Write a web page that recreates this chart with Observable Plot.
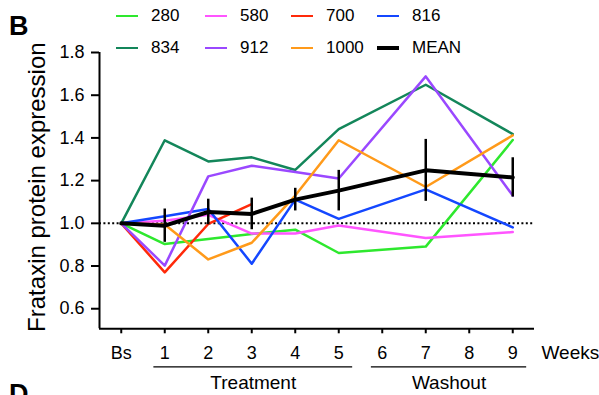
<!DOCTYPE html>
<html><head><meta charset="utf-8">
<script src="https://cdn.jsdelivr.net/npm/d3@7"></script>
<script src="https://cdn.jsdelivr.net/npm/@observablehq/plot@0.6"></script>
<style>
body{margin:0;background:#fff;}
#wrap{position:relative;width:599px;height:395px;overflow:hidden;font-family:"Liberation Sans",Arial,sans-serif;background:#fff;}
.panel{position:absolute;font-weight:bold;font-size:27px;line-height:1;color:#000;}
.leg{position:absolute;display:flex;align-items:center;height:20px;font-size:17px;color:#000;white-space:nowrap;}
.leg .sw{display:inline-block;width:22px;}
.leg .tx{margin-left:13px;}
</style></head><body><div id="wrap"></div>
<script>
// ---- data ----
const weeks = [0, 1, 2, 3, 4, 5, 7, 9];
const xTickValues = [0, 1, 2, 3, 4, 5, 6, 7, 8, 9];
const xTickLabels = ["Bs", "1", "2", "3", "4", "5", "6", "7", "8", "9"];
const yTicks = [0.6, 0.8, 1.0, 1.2, 1.4, 1.6, 1.8];
const seriesNames = ["280", "580", "700", "816", "834", "912", "1000"];
const seriesColors = ["#2ee82e", "#ff55ff", "#ff2a0a", "#1447ff", "#13865a", "#9a48ff", "#ff9a1a"];
const s280  = [1.0, 0.903, 0.927, 0.950, 0.970, 0.861, 0.891, 1.390];
const s580  = [1.0, 1.012, 1.040, 0.952, 0.952, 0.990, 0.931, 0.959];
const s700  = [1.0, 0.770, 0.997, 1.090, null, null, null, null];
const s816  = [1.0, 1.033, 1.067, 0.811, 1.111, 1.021, 1.159, 0.981];
const s834  = [1.0, 1.389, 1.290, 1.309, 1.250, 1.441, 1.649, 1.418];
const s912  = [1.0, 0.802, 1.220, 1.270, 1.240, 1.210, 1.688, 1.130];
const s1000 = [1.0, 0.994, 0.831, 0.909, 1.130, 1.389, 1.170, 1.412];
const meanValues = [1.0, 0.989, 1.053, 1.044, 1.111, 1.153, 1.248, 1.215];
const semValues  = [null, 0.078, 0.060, 0.074, 0.053, 0.095, 0.145, 0.092];
const phases = [{name: "Treatment", start: 1, end: 5}, {name: "Washout", start: 6, end: 9}];
const legendOrder = ["280", "580", "700", "816", "834", "912", "1000", "MEAN"];

const seriesValues = [s280, s580, s700, s816, s834, s912, s1000];
const yMin = 0.506, yMax = 1.8;

const rows = [];
seriesNames.forEach((name, i) => {
  seriesValues[i].forEach((v, j) => { if (v != null) rows.push({series: name, week: weeks[j], value: v}); });
});
const meanRows = weeks.map((w, j) => ({week: w, value: meanValues[j], sem: semValues[j]}));

const chart = Plot.plot({
  width: 599, height: 395,
  marginTop: 52, marginBottom: 66.7, marginLeft: 99, marginRight: 65,
  style: {background: "white", fontFamily: "'Liberation Sans', Arial, sans-serif", overflow: "visible", color: "black"},
  x: {domain: [-0.5, 9.5]},
  y: {domain: [yMin, yMax]},
  color: {domain: seriesNames, range: seriesColors},
  marks: [
    Plot.ruleY([1], {stroke: "black", strokeWidth: 2, strokeDasharray: "2,2.4"}),
    Plot.line(rows, {x: "week", y: "value", z: "series", stroke: "series", strokeWidth: 2.5}),
    Plot.line(meanRows, {x: "week", y: "value", stroke: "black", strokeWidth: 4}),
    Plot.ruleX(meanRows.filter(d => d.sem != null), {x: "week", y1: d => d.value - d.sem, y2: d => d.value + d.sem, stroke: "black", strokeWidth: 2.5}),
    Plot.ruleX([-0.5], {stroke: "black", strokeWidth: 2}),
    Plot.ruleY([yMin], {stroke: "black", strokeWidth: 2}),
    Plot.axisY({ticks: yTicks, tickFormat: d => d.toFixed(1), tickSize: 8, tickPadding: 7, fontSize: 18, strokeWidth: 2, label: null}),
    Plot.axisX({ticks: xTickValues, tickFormat: (d) => xTickLabels[xTickValues.indexOf(d)], tickSize: 5, tickPadding: 12, fontSize: 18, strokeWidth: 2, label: null}),
    Plot.text(["Frataxin protein expression"], {frameAnchor: "left", textAnchor: "middle", text: d => d, rotate: -90, dx: -62, dy: -3.5, fontSize: 24}),
    Plot.text(["Weeks"], {x: () => 9.5, y: () => yMin, text: d => d, textAnchor: "start", dx: 7, dy: 24, fontSize: 19}),
    Plot.ruleY(phases, {x1: d => d.start - 0.25, x2: d => d.end + 0.32, y: () => yMin, dy: 38, stroke: "black", strokeWidth: 1.2}),
    Plot.text(phases, {x: d => (d.start - 0.25 + d.end + 0.32) / 2, y: () => yMin, text: "name", dy: 54.5, fontSize: 19})
  ]
});

const wrap = document.getElementById("wrap");
wrap.appendChild(chart);

// panel letters
const b = document.createElement("div"); b.className = "panel"; b.textContent = "B";
b.style.left = "9px"; b.style.top = "13px"; wrap.appendChild(b);
const dd = document.createElement("div"); dd.className = "panel"; dd.textContent = "D";
dd.style.left = "9px"; dd.style.top = "381px"; wrap.appendChild(dd);

// legend
const colX = [116, 205, 291, 377];
const rowY = [16, 48];
legendOrder.forEach((name, k) => {
  const col = k % 4, row = Math.floor(k / 4);
  const idx = seriesNames.indexOf(name);
  const color = idx >= 0 ? seriesColors[idx] : "#000";
  const item = document.createElement("div"); item.className = "leg";
  item.style.left = colX[col] + "px"; item.style.top = (rowY[row] - 10) + "px";
  const sw = document.createElement("span"); sw.className = "sw";
  sw.style.height = (name === "MEAN" ? 4 : 2.5) + "px"; sw.style.background = color;
  const tx = document.createElement("span"); tx.className = "tx"; tx.textContent = name;
  item.appendChild(sw); item.appendChild(tx); wrap.appendChild(item);
});
</script></body></html>
